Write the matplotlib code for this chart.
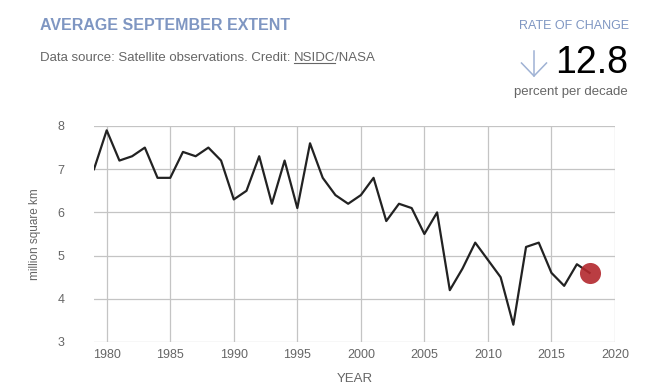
import matplotlib
matplotlib.use("Agg")
import matplotlib.pyplot as plt

# === DATA ===
years = list(range(1979, 2019))
extent = [7.0, 7.9, 7.2, 7.3, 7.5, 6.8, 6.8, 7.4, 7.3, 7.5,
          7.2, 6.3, 6.5, 7.3, 6.2, 7.2, 6.1, 7.6, 6.8, 6.4,
          6.2, 6.4, 6.8, 5.8, 6.2, 6.1, 5.5, 6.0, 4.2, 4.7,
          5.3, 4.9, 4.5, 3.4, 5.2, 5.3, 4.6, 4.3, 4.8, 4.6]
x_ticks = [1980, 1985, 1990, 1995, 2000, 2005, 2010, 2015, 2020]
y_ticks = [3, 4, 5, 6, 7, 8]
rate = "12.8"

plt.rcParams["font.family"] = ["Liberation Sans", "DejaVu Sans"]

TITLE_BLUE = "#7f96c2"
ARROW_BLUE = "#9fb2d4"
GRAY = "#666666"
GRID = "#c4c4c4"
W, H = 669, 384

fig = plt.figure(figsize=(6.69, 3.84), dpi=100)
ax = fig.add_axes([94 / W, 1 - 342 / H, 521 / W, 216 / H])

ax.plot(years, extent, color="#222222", linewidth=1.6, zorder=3)
ax.scatter([years[-1]], [extent[-1]], s=230, color="#b3282d", alpha=0.9,
           zorder=4, linewidths=0)

ax.set_xlim(1979, 2020)
ax.set_ylim(3, 8)
ax.set_xticks(x_ticks)
ax.set_yticks(y_ticks)
ax.grid(True, color=GRID, linewidth=0.9)
ax.set_axisbelow(True)
for s in ax.spines.values():
    s.set_visible(False)
ax.tick_params(length=0, labelsize=9, labelcolor=GRAY)
ax.tick_params(axis="x", pad=5)
ax.tick_params(axis="y", pad=21)
ax.set_ylabel("million square km", fontsize=8.5, color=GRAY, labelpad=12)
ax.set_xlabel("YEAR", fontsize=9.5, color=GRAY, labelpad=9)

# header
fig.text(40 / W, 1 - 26 / H, "AVERAGE SEPTEMBER EXTENT", fontsize=11.5,
         fontweight="bold", color=TITLE_BLUE, va="center", ha="left")

renderer = fig.canvas.get_renderer()
y_sub = 1 - 58 / H
t1 = fig.text(40 / W, y_sub, "Data source: Satellite observations. Credit: ",
              fontsize=9.5, color=GRAY, va="center", ha="left")
bb1 = t1.get_window_extent(renderer)
t2 = fig.text(bb1.x1 / W, y_sub, "NSIDC", fontsize=9.5, color=GRAY,
              va="center", ha="left")
bb2 = t2.get_window_extent(renderer)
fig.text(bb2.x1 / W, y_sub, "/NASA", fontsize=9.5, color=GRAY,
         va="center", ha="left")
fig.add_artist(plt.Line2D([bb2.x0 / W, bb2.x1 / W],
                          [(bb2.y0 + 1) / H, (bb2.y0 + 1) / H],
                          color=GRAY, linewidth=0.8))

fig.text(574 / W, 1 - 26 / H, "RATE OF CHANGE", fontsize=9,
         color=TITLE_BLUE, va="center", ha="center")
t_rate = fig.text(628 / W, 1 - 63 / H, rate, fontsize=27, color="black",
                  va="center", ha="right")
fig.text(628 / W, 1 - 92 / H, "percent per decade", fontsize=9.5,
         color=GRAY, va="center", ha="right")

# down arrow next to the rate
bb3 = t_rate.get_window_extent(renderer)
ax_x = 534
top = bb3.y1 - 6
tip = bb3.y0 + 5
fig.add_artist(plt.Line2D([ax_x / W, ax_x / W], [top / H, tip / H],
                          color=ARROW_BLUE, linewidth=1.1))
fig.add_artist(plt.Line2D([(ax_x - 12.5) / W, ax_x / W, (ax_x + 12.5) / W],
                          [(tip + 13) / H, tip / H, (tip + 13) / H],
                          color=ARROW_BLUE, linewidth=1.1))

fig.savefig("out.png", dpi=100)
